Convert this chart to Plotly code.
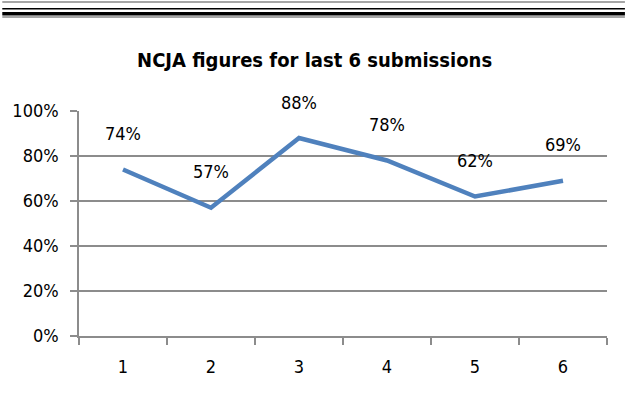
import plotly.graph_objects as go

submissions = ["1", "2", "3", "4", "5", "6"]
ncja_values = [0.74, 0.57, 0.88, 0.78, 0.62, 0.69]
y_tick_vals = [0, 0.2, 0.4, 0.6, 0.8, 1.0]
y_tick_text = ["0%", "20%", "40%", "60%", "80%", "100%"]
title_text = "NCJA figures for last 6 submissions"

W, H = 625, 400
L, R, T, B = 77, 18, 111, 64
FONT = "DejaVu Sans Condensed, Liberation Sans Narrow, sans-serif"
GRID = "#8c8c8c"


def py(y_px):
    """pixel row -> paper y"""
    return (H - B - y_px) / (H - T - B)


def px(x_px):
    return (x_px - L) / (W - L - R)


fig = go.Figure()
fig.add_trace(go.Scatter(
    x=submissions, y=ncja_values, mode="lines",
    line=dict(color="#4F81BD", width=4.5), hoverinfo="skip", showlegend=False,
))

for i, v in enumerate(ncja_values):
    fig.add_annotation(x=i, y=v, text=f"{round(v*100)}%", showarrow=False,
                       yshift=36, font=dict(family=FONT, size=18, color="#000000"))

# decorative top border lines
bands = [(1, 3, "#a6a6a6"), (8, 9.5, "#000000"), (12, 15.5, "#000000"), (16, 18, "#a6a6a6")]
for y0, y1, col in bands:
    fig.add_shape(type="rect", xref="paper", yref="paper",
                  x0=px(0), x1=px(W), y0=py(y1), y1=py(y0),
                  fillcolor=col, line=dict(width=0), layer="above")

fig.update_layout(
    width=W, height=H,
    margin=dict(l=L, r=R, t=T, b=B),
    paper_bgcolor="white", plot_bgcolor="white",
    title=dict(text=f"<b>{title_text}</b>", x=px(313.5), xref="paper", xanchor="center",
               y=1 - 60 / H, yref="container", yanchor="middle",
               font=dict(family=FONT, size=20, color="#000000")),
    font=dict(family=FONT, size=18, color="#000000"),
)
fig.update_xaxes(type="category", range=[-0.5, len(submissions) - 0.5],
                 showgrid=False, showline=True, linecolor=GRID, linewidth=1.5,
                 ticks="outside", tickson="boundaries", ticklen=7, tickcolor=GRID, tickwidth=1.5,
                 ticklabelstandoff=14, tickfont=dict(family=FONT, size=18), fixedrange=True)
fig.update_yaxes(range=[0, 1], tickvals=y_tick_vals, ticktext=y_tick_text,
                 showgrid=True, gridcolor=GRID, gridwidth=1.5, zeroline=False,
                 showline=True, linecolor=GRID, linewidth=1.5,
                 ticks="outside", ticklen=7, tickcolor=GRID, tickwidth=1.5,
                 ticklabelstandoff=8, tickfont=dict(family=FONT, size=18), fixedrange=True)

fig.write_html("out.html", config={"displayModeBar": False},
               post_script="document.body.style.margin='0';document.body.style.overflow='hidden';")
